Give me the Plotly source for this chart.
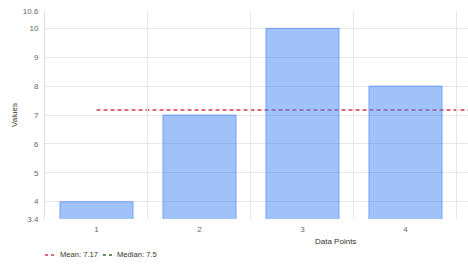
import plotly.graph_objects as go

categories = ["1", "2", "3", "4"]
values = [4, 7, 10, 8]
mean_value = 7.17
median_value = 7.5
y_ticks = [3.4, 4, 5, 6, 7, 8, 9, 10, 10.6]
y_tick_labels = ["3.4", "4", "5", "6", "7", "8", "9", "10", "10.6"]

MEAN_COLOR = "#d1384a"
MEDIAN_COLOR = "#2f6b2f"

PLOT_L, PLOT_W = 45, 423


def px(xpix):
    return (xpix - PLOT_L) / PLOT_W


fig = go.Figure()
fig.add_trace(go.Bar(
    x=categories, y=values, width=0.71,
    marker=dict(color="rgba(66,133,244,0.5)", line=dict(color="rgba(66,133,244,0.6)", width=1)),
    showlegend=False, hoverinfo="skip",
))
fig.add_shape(type="line", xref="x", yref="y", x0=0, x1=3.607, y0=mean_value, y1=mean_value,
              line=dict(color=MEAN_COLOR, width=1.5, dash="4px,3px"), layer="below")

legend_y = -0.173
# legend samples
fig.add_shape(type="line", xref="paper", yref="paper", x0=px(45), x1=px(54), y0=legend_y, y1=legend_y,
              line=dict(color=MEAN_COLOR, width=1.5, dash="3px,3px"))
fig.add_shape(type="line", xref="paper", yref="paper", x0=px(103), x1=px(112), y0=legend_y, y1=legend_y,
              line=dict(color=MEDIAN_COLOR, width=1.5, dash="3px,3px"))

annotations = [
    dict(text="Data Points", xref="paper", yref="paper", x=0.686, y=-0.106,
         xanchor="center", yanchor="middle", showarrow=False,
         font=dict(size=8, color="#333")),
    dict(text=f"Mean: {mean_value}", xref="paper", yref="paper", x=px(59), y=legend_y,
         xanchor="left", yanchor="middle", showarrow=False, xshift=-1,
         font=dict(size=7.6, color="#333")),
    dict(text=f"Median: {median_value}", xref="paper", yref="paper", x=px(116), y=legend_y,
         xanchor="left", yanchor="middle", showarrow=False, xshift=-1,
         font=dict(size=7.6, color="#333")),
]

fig.update_layout(
    width=468, height=279,
    margin=dict(l=45, r=0, t=11, b=60),
    paper_bgcolor="white", plot_bgcolor="white",
    font=dict(family="Arial, Liberation Sans, sans-serif", size=8, color="#666"),
    showlegend=False,
    xaxis=dict(type="category", range=[-0.5, 3.607], tickson="boundaries",
               showgrid=True, gridcolor="#e6e6e6", gridwidth=1, zeroline=False,
               showline=False, ticks="", ticklen=0, ticklabelstandoff=4,
               tickfont=dict(size=8, color="#666")),
    yaxis=dict(range=[3.4, 10.6], tickvals=y_ticks, ticktext=y_tick_labels,
               showgrid=True, gridcolor="#e6e6e6", gridwidth=1, zeroline=False,
               showline=True, linecolor="#e0e0e0", linewidth=1,
               ticks="", tickfont=dict(size=8, color="#666"), ticklabelstandoff=4,
               title=dict(text="Values", font=dict(size=8, color="#333"), standoff=4)),
    annotations=annotations,
)

fig.write_html("out.html")
